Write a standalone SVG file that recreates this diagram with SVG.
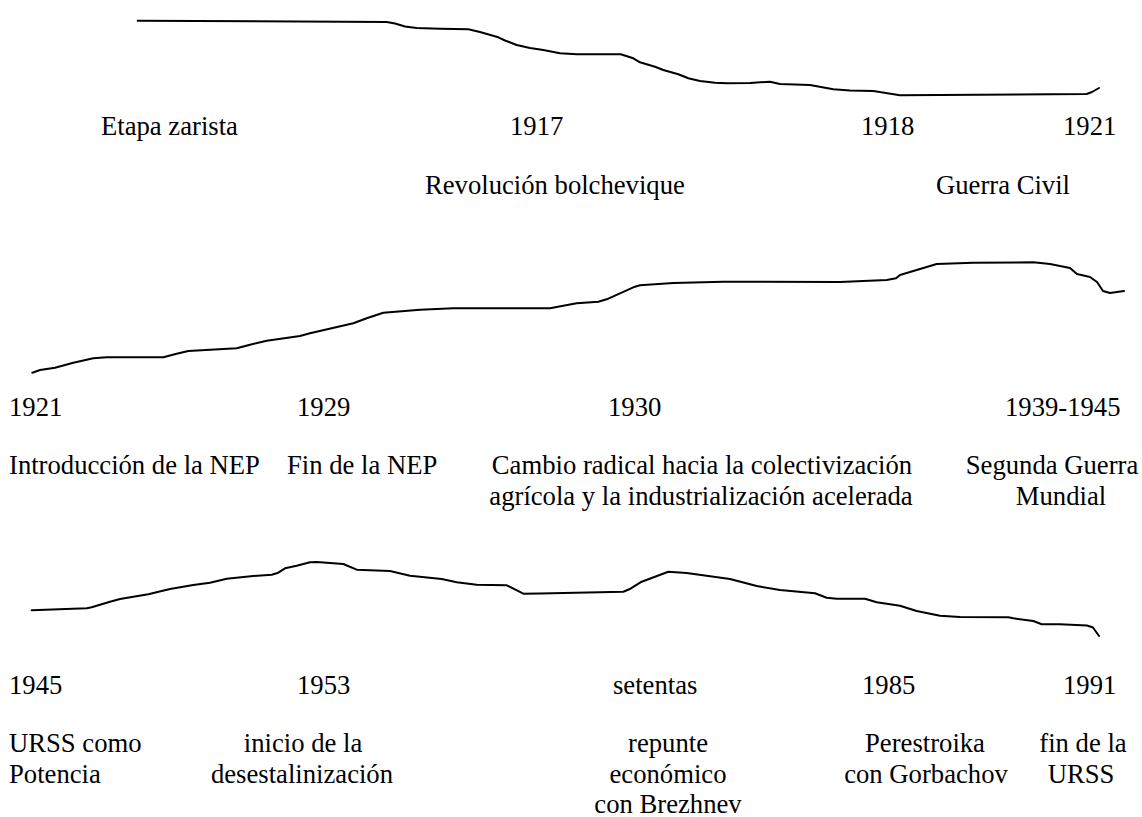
<svg xmlns="http://www.w3.org/2000/svg" width="1142" height="817" viewBox="0 0 1142 817">
<style>
.t{font-family:"Liberation Serif","Times New Roman",serif;font-size:26.67px;fill:#000}
.m{text-anchor:middle}
.c{fill:none;stroke:#000;stroke-width:2;stroke-linejoin:round;stroke-linecap:round}
</style>
<rect width="1142" height="817" fill="#fff"/>
<g id="curves">
<path id="curve1" class="c" d="M137.7,20.7 L386.7,22 L395,23.5 L405,26.5 L416.7,28 L440,28.8 L468.3,29.3 L480,32 L498.3,37.3 L505,40.5 L516.7,45 L530,48 L543.3,50 L560,53.3 L576.7,54.3 L620.7,54.3 L633.3,58.3 L640,62.3 L655,66.7 L663.3,70 L678.3,74.3 L688.3,78.3 L700,81 L715,82.8 L726.7,83.3 L750,83 L770,81.7 L780,84 L810,85 L833.3,89.3 L850,90.5 L873.3,91 L900,95.3 L1086.7,94 L1092,92 L1099,88"/>
<path id="curve2" class="c" d="M32.3,372.7 L40,370 L55,367.7 L73.3,362.7 L93.3,358.3 L106.7,357.3 L163.3,357.3 L176.7,353.7 L188.3,351 L236.7,348.3 L250,344.7 L266.7,340.7 L300,336 L310,333.3 L353.3,323.3 L366.7,318.3 L383.3,312.7 L420,309.7 L453.3,308.3 L550,308.3 L576.7,303.3 L598.3,301.7 L606.7,299.3 L633.3,287.3 L640,285.3 L673.3,283 L723.3,281.7 L840,282 L886.7,280 L896,278.3 L900,275 L936.7,264 L973.3,262.7 L1033.3,262.3 L1050,264 L1070,268 L1077,274 L1090,277 L1097,282 L1103,291 L1110,293 L1124,291"/>
<path id="curve3" class="c" d="M31.7,610.3 L86.7,608.3 L91.7,607.3 L110,601.7 L120,599 L148.3,594.3 L170,589 L193.3,585 L210,582.7 L226.7,578.7 L253.3,576 L271.7,574.7 L278.3,572.7 L285,568.3 L296.7,565.7 L310,562.3 L316.7,562 L343.3,564 L356.7,569.7 L390,571 L410,575.7 L441.7,579 L456.7,582.3 L476.7,584.7 L506.7,585.3 L523.3,593.7 L540,593.5 L623.3,591.7 L629.3,589.3 L641.7,581.7 L668.3,571.7 L686.7,573 L730,579 L756.7,586 L780,590 L815,593.3 L826.7,597.7 L836.7,598.7 L865,598.7 L876.7,602.3 L900,605.7 L916.7,611 L940,615.7 L960,617 L1008.3,617.3 L1013.3,618.3 L1033.3,621 L1041.7,624.3 L1060,624.3 L1087,625.5 L1093,627.5 L1099,636"/>
</g>
<g id="row1">
<text class="t" x="101" y="135">Etapa zarista</text>
<text class="t" x="510" y="135">1917</text>
<text class="t" x="861" y="135">1918</text>
<text class="t" x="1063" y="135">1921</text>
<text class="t" x="425" y="194">Revolución bolchevique</text>
<text class="t" x="936" y="194">Guerra Civil</text>
</g>
<g id="row2">
<text class="t" x="9" y="416">1921</text>
<text class="t" x="297" y="416">1929</text>
<text class="t" x="608" y="416">1930</text>
<text class="t" x="1005" y="416">1939-1945</text>
<text class="t" x="9" y="474">Introducción de la NEP</text>
<text class="t" x="287" y="474">Fin de la NEP</text>
<text class="t m" x="702" y="474">Cambio radical hacia la colectivización</text>
<text class="t m" x="701" y="505">agrícola y la industrialización acelerada</text>
<text class="t m" x="1052" y="474">Segunda Guerra</text>
<text class="t m" x="1061" y="505">Mundial</text>
</g>
<g id="row3">
<text class="t" x="9" y="694">1945</text>
<text class="t" x="297" y="694">1953</text>
<text class="t" x="613" y="694">setentas</text>
<text class="t" x="862" y="694">1985</text>
<text class="t" x="1063" y="694">1991</text>
<text class="t" x="9" y="752">URSS como</text>
<text class="t" x="9" y="783">Potencia</text>
<text class="t m" x="303" y="752">inicio de la</text>
<text class="t m" x="302" y="783">desestalinización</text>
<text class="t m" x="668" y="752">repunte</text>
<text class="t m" x="668" y="783">económico</text>
<text class="t m" x="668" y="813">con Brezhnev</text>
<text class="t m" x="925" y="752">Perestroika</text>
<text class="t m" x="926" y="783">con Gorbachov</text>
<text class="t m" x="1083" y="752">fin de la</text>
<text class="t m" x="1081" y="783">URSS</text>
</g>
</svg>
